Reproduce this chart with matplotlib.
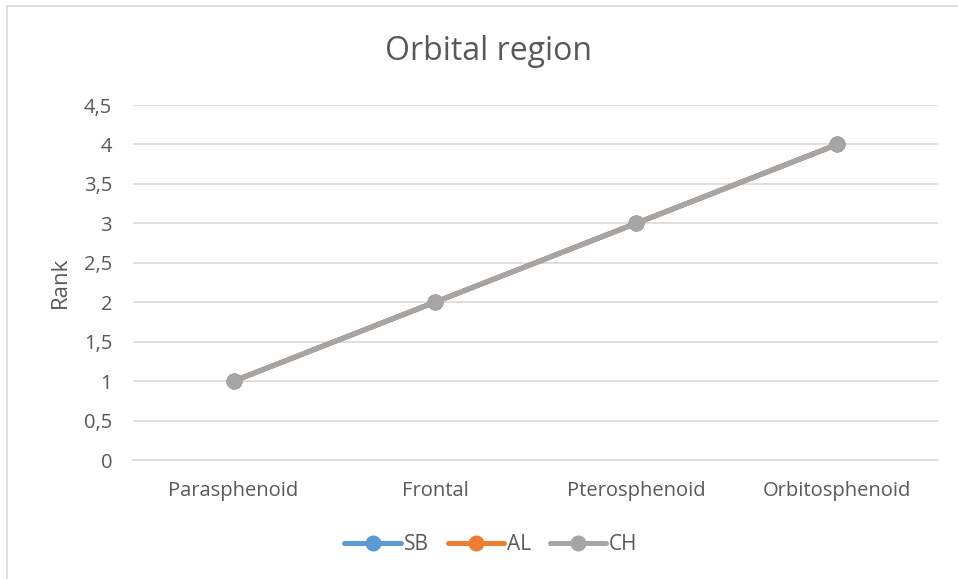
import matplotlib
matplotlib.use("Agg")
import matplotlib.pyplot as plt
from matplotlib.ticker import FuncFormatter, MultipleLocator
from matplotlib.patches import Rectangle

categories = ["Parasphenoid", "Frontal", "Pterosphenoid", "Orbitosphenoid"]
sb = [1, 2, 3, 4]
al = [1, 2, 3, 4]
ch = [1, 2, 3, 4]
series_names = ["SB", "AL", "CH"]
colors = ["#5B9BD5", "#ED7D31", "#A5A5A5"]

plt.rcParams["font.family"] = ["Open Sans", "DejaVu Sans"]
text_color = "#595959"

fig = plt.figure(figsize=(9.58, 5.79), dpi=100)
ax = fig.add_axes([133 / 958, 1 - 460 / 579, 805 / 958, 355 / 579])

# chart frame
fig.patches.append(Rectangle((7 / 958, -0.01), 1.0, 1 - 6 / 579 + 0.01,
                             transform=fig.transFigure, fill=False,
                             edgecolor="#D9D9D9", linewidth=1.2))

x = list(range(len(categories)))
for vals, name, c in zip([sb, al, ch], series_names, colors):
    ax.plot(x, vals, color=c, linewidth=3.6, marker="o", markersize=10.5,
            label=name, solid_capstyle="round")

ax.set_xlim(-0.5, len(categories) - 0.5)
ax.set_ylim(0, 4.5)
ax.yaxis.set_major_locator(MultipleLocator(0.5))
ax.yaxis.set_major_formatter(FuncFormatter(lambda v, p: f"{v:g}".replace(".", ",")))
ax.set_xticks(x)
ax.set_xticklabels(categories)
ax.grid(axis="y", color="#D9D9D9", linewidth=1.2)
ax.set_axisbelow(True)
for s in ["top", "right", "left"]:
    ax.spines[s].set_visible(False)
ax.spines["bottom"].set_color("#D9D9D9")
ax.spines["bottom"].set_linewidth(1.2)
ax.tick_params(axis="both", length=0, labelsize=14.5, colors=text_color)
ax.tick_params(axis="x", pad=15)
ax.tick_params(axis="y", pad=15)

ax.set_ylabel("Rank", fontsize=16, color=text_color, labelpad=9)
fig.text(488 / 958, 1 - 51 / 579, "Orbital region", ha="center", va="center",
         fontsize=23, color=text_color)

leg = ax.legend(loc="center", bbox_to_anchor=(491 / 958, 1 - 545 / 579),
                bbox_transform=fig.transFigure, ncol=3, frameon=False,
                fontsize=15, handlelength=2.7, handletextpad=0.15,
                columnspacing=0.9)
for t in leg.get_texts():
    t.set_color(text_color)

fig.savefig("out.png", dpi=100)
